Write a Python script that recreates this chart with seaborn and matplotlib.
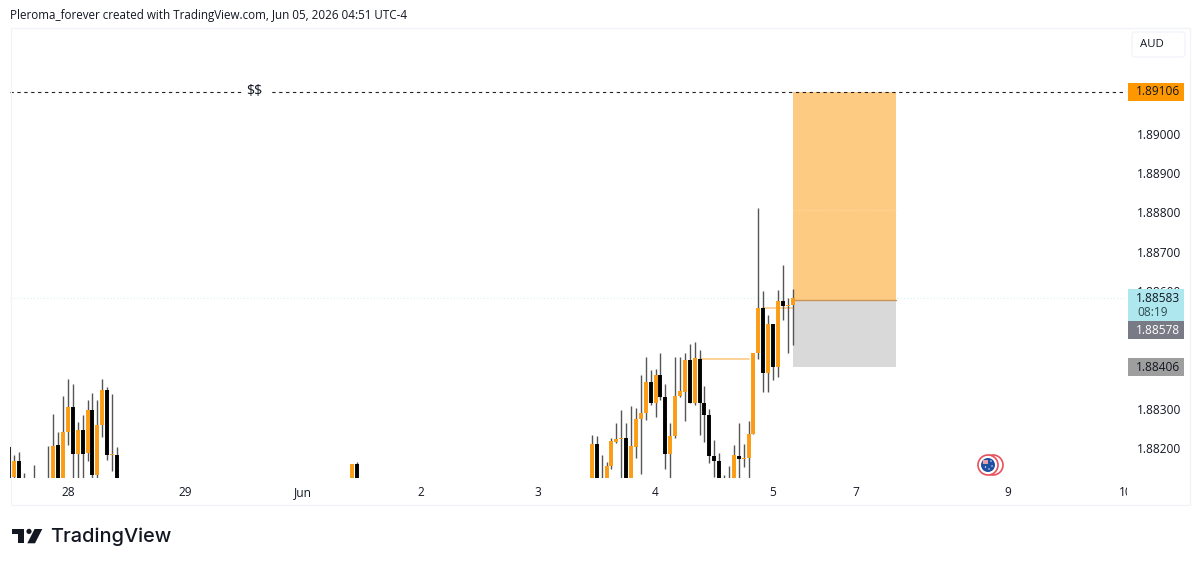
# plot.py
# TradingView style 1H candle chart with a long position box

import pandas as pd
import matplotlib.pyplot as plt
import seaborn as sns
from matplotlib.patches import Rectangle, FancyBboxPatch, Polygon, Circle

# candle hour, counted from 28 May 00:00
hours = [-12, -11, -10, -9, -7, -4, -3, -2, -1, 0, 1, 2, 3, 4, 5, 6, 7, 8, 9, 10,
         58, 59,
         107, 108, 109, 110, 111, 112, 113, 114, 115, 116, 117, 118, 119, 120,
         121, 122, 123, 124, 125, 126, 127, 128, 129, 130, 131, 132, 133, 134,
         135, 136, 137, 138, 139, 140, 141, 142, 143, 144, 145, 146, 147, 148]

# prices in 1e-5 AUD
opens = [188203, 188127, 188168, 188115, 188115, 188115, 188110, 188207, 188110, 188242,
         188305, 188186, 188247, 188188, 188297, 188131, 188259, 188348, 188183, 188182,
         188110, 188159,
         188110, 188210, 188115, 188110, 188154, 188216, 188222, 188227, 188110, 188203,
         188275, 188290, 188367, 188314, 188386, 188329, 188186, 188231, 188332, 188343,
         188424, 188314, 188428, 188316, 188284, 188180, 188168, 188115, 188115, 188110,
         188181, 188173, 188174, 188237, 188443, 188557, 188390, 188515, 188407, 188574,
         188562, 188564]
highs = [188205, 188183, 188189, 188137, 188158, 188205, 188286, 188241, 188332, 188376,
         188363, 188267, 188284, 188322, 188341, 188322, 188376, 188356, 188339, 188202,
         188159, 188165,
         188233, 188231, 188182, 188165, 188227, 188265, 188297, 188263, 188307, 188303,
         188386, 188432, 188398, 188401, 188443, 188363, 188264, 188432, 188431, 188443,
         188465, 188471, 188449, 188359, 188299, 188220, 188187, 188131, 188154, 188208,
         188263, 188210, 188270, 188443, 188812, 188599, 188538, 188517, 188602, 188666,
         188581, 188606]
lows = [188110, 188122, 188110, 188105, 188105, 188105, 188100, 188100, 188100, 188207,
        188110, 188110, 188110, 188168, 188110, 188110, 188229, 188169, 188142, 188110,
        188100, 188100,
        188100, 188100, 188105, 188100, 188148, 188214, 188110, 188110, 188105, 188174,
        188134, 188271, 188309, 188278, 188322, 188148, 188110, 188225, 188331, 188269,
        188314, 188309, 188233, 188216, 188161, 188127, 188110, 188105, 188105, 188105,
        188110, 188153, 188110, 188236, 188428, 188343, 188343, 188373, 188381, 188526,
        188441, 188462]
closes = [188110, 188168, 188110, 188112, 188112, 188112, 188205, 188110, 188242, 188305,
          188186, 188247, 188186, 188297, 188131, 188259, 188348, 188182, 188184, 188110,
          188159, 188110,
          188210, 188110, 188112, 188154, 188219, 188222, 188227, 188110, 188205, 188275,
          188290, 188367, 188314, 188386, 188329, 188186, 188231, 188332, 188345, 188424,
          188316, 188430, 188315, 188284, 188180, 188168, 188110, 188112, 188112, 188182,
          188173, 188174, 188236, 188443, 188557, 188390, 188515, 188407, 188574, 188562,
          188564, 188581]

# position tool and price lines
tp_price = 1.89106
entry_price = 1.88578
stop_price = 1.88406
last_price = 1.88583
pos_start, pos_end = 148, 169.1
pos_mid_price = 1.88805
stale_lines = [(129, 139, 1.88426), (142, 148, 1.88557)]

# 1.884 and 1.885 sit behind the price tags, so they are left out
price_ticks = [1.882, 1.883, 1.886, 1.887, 1.888, 1.889, 1.890]
time_ticks = [0, 24, 48, 72, 96, 120, 144, 161, 192, 216]
time_labels = ['28', '29', 'Jun', '2', '3', '4', '5', '7', '9', '10']

ORANGE = '#FB9C14'
BLACK = '#000000'
WICK = '#555555'
FRAME = '#F0F3FA'

sns.set_theme(style='white')
plt.rcParams['font.family'] = ['Open Sans', 'DejaVu Sans']

W, H = 1200, 567
fig = plt.figure(figsize=(W / 100, H / 100), dpi=100, facecolor='white')

# main pane sits at pixels x 10-1126, y 28-478
ax = fig.add_axes([10 / W, 1 - 478 / H, 1116 / W, 450 / H], zorder=1)
ax.set_xlim(-11.85, 216.1)
ax.set_ylim(1.88124, 1.89269)

candles = pd.DataFrame({'hour': hours, 'open': opens, 'high': highs, 'low': lows, 'close': closes})
candles[['open', 'high', 'low', 'close']] = candles[['open', 'high', 'low', 'close']] / 1e5
candles['side'] = ['up' if c >= o else 'down' for o, c in zip(candles['open'], candles['close'])]

wicks = candles.melt(id_vars=['hour', 'side'], value_vars=['low', 'high'], value_name='price')
bodies = candles.melt(id_vars=['hour', 'side'], value_vars=['open', 'close'], value_name='price')

# position box
ax.fill_between([pos_start, pos_end], entry_price, tp_price, color='#FECB82', lw=0, zorder=0.5)
ax.fill_between([pos_start, pos_end], stop_price, entry_price, color='#D9D9D9', lw=0, zorder=0.5)
ax.plot([pos_start, pos_end], [entry_price, entry_price], color='#C8955A', lw=1, zorder=0.6)
ax.plot([pos_start, pos_end], [pos_mid_price, pos_mid_price], color='#FFE0B2', lw=0.7,
        ls=(0, (1, 2)), zorder=0.6)

# price lines
ax.axhline(last_price, color='#D5F2F5', lw=0.8, ls=(0, (1, 2)), zorder=0.4)
ax.axhline(tp_price, color='#222222', lw=0.8, ls=(0, (3, 3.2)), zorder=0.7)
for x0, x1, p in stale_lines:
    ax.plot([x0, x1], [p, p], color='#FBC57C', lw=1.1, zorder=0.9)

sns.lineplot(data=wicks, x='hour', y='price', units='hour', estimator=None, sort=False,
             color=WICK, linewidth=1.0, solid_capstyle='butt', legend=False, ax=ax, zorder=1)
sns.lineplot(data=bodies, x='hour', y='price', units='hour', estimator=None, sort=False,
             hue='side', palette={'up': ORANGE, 'down': BLACK}, linewidth=2.8,
             solid_capstyle='butt', legend=False, ax=ax, zorder=2)

ax.set_xlabel('')
ax.set_ylabel('')
ax.set_xticks(time_ticks)
ax.set_xticklabels(time_labels)
ax.yaxis.tick_right()
ax.set_yticks(price_ticks)
ax.set_yticklabels(['%.5f' % p for p in price_ticks])
ax.tick_params(axis='x', length=0, pad=5.8, labelsize=8.6, labelcolor='#131722')
ax.tick_params(axis='y', length=0, pad=8, labelsize=8.6, labelcolor='#131722')
sns.despine(ax=ax, left=True, right=True, top=True, bottom=True)


# overlay in pixel coordinates for tags, frame, header and logo
over = fig.add_axes([0, 0, 1, 1], zorder=5)
over.set_xlim(0, W)
over.set_ylim(H, 0)
over.axis('off')


def py(price):
    return 448 - (price - 1.882) * 39300


over.add_patch(Rectangle((10.5, 27.5), 1179, 477.5, fill=False, ec=FRAME, lw=0.9))
over.add_patch(Rectangle((1127, 480), 8, 24, fc='white', ec='none'))

# $$ label breaks the dashed line
over.add_patch(Rectangle((243, py(tp_price) - 7), 28, 14, fc='white', ec='none'))
over.text(254.5, py(tp_price), '$$', ha='center', va='center', fontsize=10.2, color='#131722',
          parse_math=False)

# currency button
over.add_patch(FancyBboxPatch((1132, 32), 53, 25, boxstyle='round,pad=0,rounding_size=3',
                              fc='white', ec=FRAME, lw=0.9))
over.text(1152, 44.5, 'AUD', ha='center', va='center', fontsize=8.2, color='#131722')


def tag(y0, y1, color, label, text_color, label_y=None):
    over.add_patch(Rectangle((1128, y0), 56, y1 - y0, fc=color, ec='none'))
    y = (y0 + y1) / 2 if label_y is None else label_y
    over.text(1158, y, label, ha='center', va='center', fontsize=8.6, color=text_color)


tag(py(tp_price) - 9, py(tp_price) + 9, '#FF9800', '1.89106', '#131722')
tag(289, 321, '#AEE8EE', '1.88583', '#131722', label_y=299)
over.text(1137, 312, '08:19', ha='left', va='center', fontsize=8.6, color='#2f4a50')
tag(321, 339, '#787B86', '1.88578', 'white')
tag(py(stop_price) - 9, py(stop_price) + 9, '#9E9E9E', '1.88406', '#131722')

# calendar event icon
over.add_patch(Circle((993, 465), 10, fc='white', ec='#E8505B', lw=1.2))
over.add_patch(Circle((988, 465), 10, fc='white', ec='#E8505B', lw=1.2))
over.add_patch(Circle((988, 465), 7, fc='#1F4FA3', ec='none'))
over.add_patch(Rectangle((982.5, 459.5), 5.5, 4.5, fc='#E8A0A8', ec='none'))
for cx, cy in [(991, 461), (992, 466), (989, 469), (985.5, 467)]:
    over.add_patch(Circle((cx, cy), 0.7, fc='white', ec='none'))

# header
over.text(10, 15.5, 'Pleroma_forever created with TradingView.com, Jun 05, 2026 04:51 UTC-4',
          ha='left', va='center', fontsize=8.4, color='#131722')

# logo
LOGO = '#131722'
over.add_patch(Polygon([(12.3, 529), (24, 529), (24, 543.3), (17.7, 543.3), (17.7, 534.3), (12.3, 534.3)],
                       fc=LOGO, ec='none'))
over.add_patch(Circle((29, 531.4), 2.6, fc=LOGO, ec='none'))
over.add_patch(Polygon([(42.3, 529), (35, 543.3), (27.3, 543.3), (34.6, 529)], fc=LOGO, ec='none'))
over.text(50, 536.5, 'TradingView', ha='left', va='center', fontsize=14.4, color=LOGO,
          family=['Inter', 'DejaVu Sans'], fontweight='medium')

fig.savefig('out.png', dpi=100)
